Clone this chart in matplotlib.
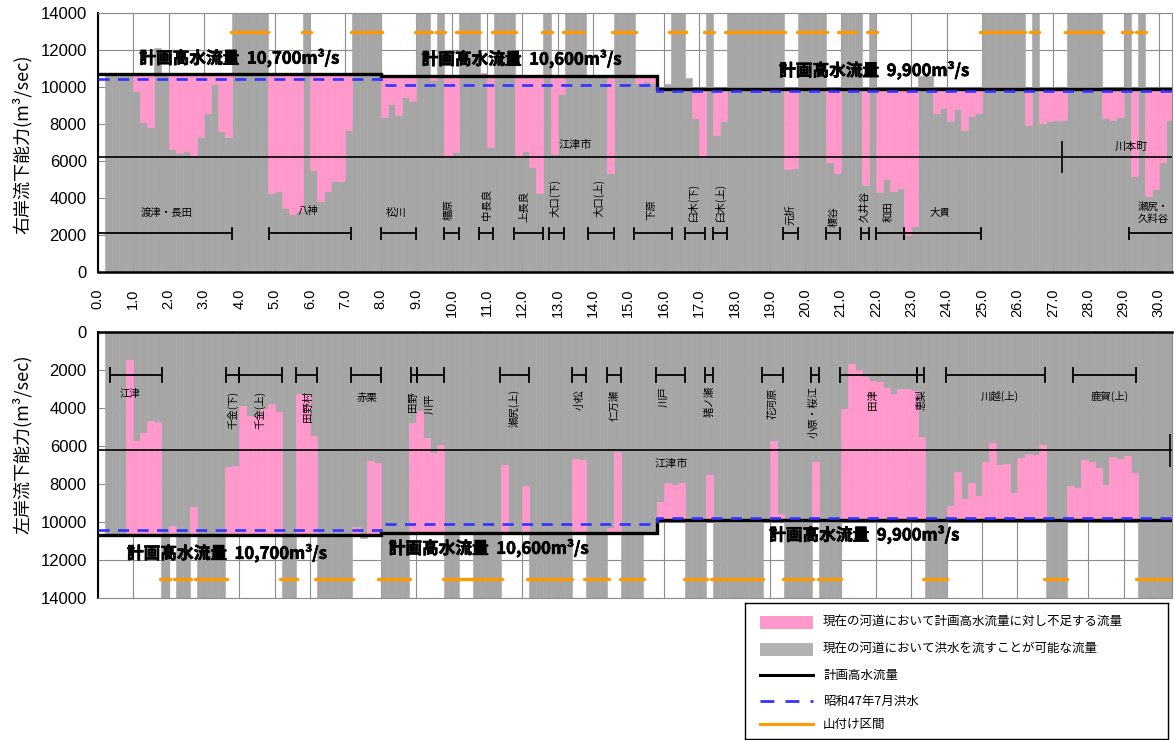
import numpy as np
import matplotlib
matplotlib.use('Agg')
import matplotlib.pyplot as plt
import matplotlib.patheffects as pe
from matplotlib.patches import Rectangle

plt.rcParams['font.family'] = ['Noto Sans CJK JP', 'DejaVu Sans']

# ---------------- data ----------------
STEP = 0.2           # km per section
YMAX = 14000         # full-height columns = mountain sections
nan = np.nan

# right bank capacity per 0.2 km section (start 0.0, 0.2, ... 30.2)
right_capacity = [
    nan, 10700, 10700, 10700, 10700,
    9800, 8100, 7850, 12100, 10700,
    6630, 6430, 6560, 6320, 7280,
    8610, 10200, 7640, 7280, 14000,
    14000, 14000, 14000, 14000, 4300,
    4360, 3440, 3130, 3280, 14000,
    5500, 3860, 4410, 4920, 4900,
    7710, 14000, 14000, 14000, 14000,
    8370, 9100, 8480, 9450, 9270,
    14000, 14000, 10390, 14000, 6280,
    6480, 14000, 14000, 14000, 10790,
    6780, 14000, 14000, 14000, 6240,
    6530, 5700, 4280, 14000, 6370,
    9630, 14000, 14000, 14000, 10600,
    10600, 10650, 5380, 14000, 14000,
    14000, 10250, 10340, 10250, 9900,
    10170, 14000, 14000, 10480, 8350,
    6240, 14000, 7410, 8190, 14000,
    14000, 14000, 14000, 14000, 14000,
    14000, 14000, 5570, 5650, 14000,
    14000, 14000, 14000, 5970, 5380,
    14000, 14000, 14000, 4730, 14000,
    4330, 5030, 4390, 4540, 2000,
    2500, 10580, 10580, 8630, 8870,
    8150, 8810, 7700, 8450, 8600,
    14000, 14000, 14000, 14000, 14000,
    14000, 7970, 14000, 8060, 8150,
    8240, 8200, 14000, 14000, 14000,
    14000, 14000, 8330, 8200, 8380,
    14000, 5170, 14000, 4090, 4500,
    5950, 8240,
]

# left bank capacity per 0.2 km section
left_capacity = [
    nan, 10700, 10700, 10700, 1460,
    5720, 5300, 4680, 4730, 14000,
    10220, 14000, 14000, 9240, 14000,
    14000, 14000, 14000, 7090, 7050,
    3870, 4400, 4400, 4060, 3780,
    4200, 14000, 14000, 3250, 3300,
    5470, 14000, 14000, 14000, 14000,
    14000, 10290, 10870, 6790, 6900,
    14000, 14000, 14000, 14000, 4770,
    4150, 5590, 6390, 5950, 14000,
    14000, 10600, 10600, 14000, 14000,
    14000, 14000, 6980, 10600, 10600,
    8110, 14000, 14000, 14000, 14000,
    14000, 14000, 6680, 6750, 14000,
    14000, 14000, 10340, 6320, 14000,
    14000, 14000, 10600, 10600, 8940,
    7950, 8070, 7950, 14000, 14000,
    14000, 7530, 14000, 14000, 14000,
    14000, 14000, 14000, 14000, 9900,
    5750, 9600, 14000, 14000, 14000,
    14000, 6860, 14000, 14000, 14000,
    4050, 1670, 1990, 2380, 2570,
    2600, 2960, 3250, 2990, 2990,
    3100, 5510, 14000, 14000, 14000,
    9160, 7370, 8800, 7930, 8640,
    6860, 5860, 7000, 6970, 8500,
    6610, 6440, 6470, 5960, 14000,
    14000, 14000, 8090, 8200, 6740,
    6860, 7140, 8060, 6600, 6700,
    6510, 7420, 14000, 14000, 14000,
    14000, 14000,
]

# planned high-water discharge (step) and 1972 flood
plan_edges = [0.0, 8.0, 15.8, 30.4]
plan_values = [10700, 10600, 9900]
plan_labels = ['計画高水流量  10,700m³/s', '計画高水流量  10,600m³/s', '計画高水流量  9,900m³/s']
flood_values = [10450, 10130, 9770]

# mountain-side sections (山付け区間)
right_mount_start = [3.77, 5.76, 7.16, 8.97, 9.55, 10.14, 11.15, 12.55, 13.15, 14.55, 16.14,
                     17.15, 17.74, 19.76, 20.94, 21.74, 24.94, 26.36, 27.35, 28.95, 29.35]
right_mount_end = [4.82, 6.03, 8.03, 9.44, 9.82, 10.81, 11.82, 12.83, 13.75, 15.22, 16.62,
                   17.43, 19.43, 20.61, 21.45, 22.02, 26.22, 26.62, 28.41, 29.23, 29.64]
left_mount_start = [1.76, 2.15, 2.75, 5.15, 6.14, 7.93, 9.75, 12.14, 13.75, 14.75, 16.56,
                    17.33, 19.36, 20.36, 23.34, 26.75, 29.35]
left_mount_end = [2.04, 2.63, 3.64, 5.62, 7.22, 8.83, 11.42, 13.42, 14.44, 15.43, 17.22,
                  18.82, 20.21, 21.01, 24.02, 27.41, 30.4]

# district ranges
right_range_start = [0.0, 4.83, 8.0, 9.8, 10.78, 11.76, 12.75, 13.87, 15.17, 16.6, 17.4,
                     19.38, 20.58, 21.58, 22.0, 22.78, 29.16]
right_range_end = [3.8, 7.16, 9.0, 10.2, 11.18, 12.6, 13.17, 14.58, 16.24, 17.17, 17.78,
                   19.8, 20.99, 21.8, 22.78, 24.97, 30.4]
left_range_start = [0.35, 3.62, 4.0, 5.6, 7.15, 8.85, 9.02, 11.37, 13.41, 14.40, 15.78,
                    17.17, 18.79, 20.16, 20.99, 23.15, 23.98, 27.58]
left_range_end = [1.82, 4.0, 5.2, 6.19, 8.0, 9.02, 9.79, 12.18, 13.80, 14.78, 16.61,
                  17.38, 19.38, 20.39, 23.15, 23.35, 26.79, 29.35]

# district names: (name, km, value, rotation)
right_names = [
    ('渡津・長田', 1.95, 3190, 0), ('八神', 5.95, 3280, 0), ('松川', 8.43, 3190, 0),
    ('櫃原', 9.91, 3400, 90), ('中長良', 11.0, 3650, 90), ('上長良', 12.03, 3550, 90),
    ('大口(下)', 12.93, 3990, 90), ('大口(上)', 14.17, 3990, 90), ('下原', 15.66, 3355, 90),
    ('臼木(下)', 16.84, 3770, 90), ('臼木(上)', 17.6, 3770, 90), ('元折', 19.57, 3080, 90),
    ('榎谷', 20.8, 3000, 90), ('久井谷', 21.69, 3535, 90), ('和田', 22.35, 3265, 90),
    ('大貫', 23.8, 3244, 0), ('瀬尻・\n久料谷', 29.85, 3200, 0),
]
left_names = [
    ('江津', 0.91, 3270, 0), ('千金(下)', 3.83, 4100, 90), ('千金(上)', 4.57, 4100, 90),
    ('田野村', 5.95, 3920, 90), ('赤栗', 7.6, 3480, 0), ('田野', 8.92, 3660, 90),
    ('川平', 9.39, 3750, 90), ('瀬尻(上)', 11.77, 4010, 90), ('小松', 13.63, 3570, 90),
    ('仁万瀬', 14.62, 3835, 90), ('川戸', 15.99, 3395, 90), ('猪ノ瀬', 17.29, 3660, 90),
    ('花河原', 19.07, 3750, 90), ('小原・桜江', 20.25, 4190, 90), ('田津', 21.93, 3560, 90),
    ('恵梨', 23.3, 3560, 90), ('川越(上)', 25.51, 3395, 0), ('鹿賀(上)', 28.62, 3395, 0),
]

# municipal boundary line
boundary_value = 6200
right_boundary_ticks = [0.0, 27.26]
left_boundary_ticks = [0.0, 30.3]
right_cities = [('江津市', 13.49, 6850), ('川本町', 29.23, 6800)]
left_cities = [('江津市', 16.2, 6950)]

right_plan_text_pos = [(4.0, 11570), (11.98, 11515), (21.95, 10900)]
left_plan_text_pos = [(3.65, 11662), (11.05, 11398), (21.67, 10695)]

# ---------------- style ----------------
PINK = '#FF99CC'
GRAY = '#A6A6A6'
ORANGE = '#FF9900'
BLUE = '#3333FF'
GRID = '#8C8C8C'
XMAX = 30.37
TICKFONT = 'Liberation Sans'
BOLD_FX = [pe.withStroke(linewidth=0.5, foreground='black')]

W, H = 1174, 740
fig = plt.figure(figsize=(W / 100, H / 100), dpi=100)
ax1 = fig.add_axes([97.8 / W, 1 - 272 / H, (1172 - 97.8) / W, (272 - 13.3) / H])
ax2 = fig.add_axes([97.8 / W, 1 - 597.7 / H, (1172 - 97.8) / W, (597.7 - 332.3) / H])


def draw_panel(ax, capacity, mount_s, mount_e, rng_s, rng_e, rng_y, cap_half, names,
               b_ticks, cities, text_pos, inverted):
    cap = np.array(capacity, dtype=float)
    x = np.arange(len(cap)) * STEP
    idx = np.searchsorted(plan_edges, x + STEP / 2, side='right') - 1
    plan_at = np.array(plan_values, dtype=float)[idx]
    valid = ~np.isnan(cap)
    gray_h = np.where(valid, np.minimum(cap, YMAX), 0)
    short = np.where(valid & (cap < plan_at), plan_at - np.nan_to_num(cap), 0)
    ax.bar(x, gray_h, width=STEP, align='edge', color=GRAY, edgecolor=GRAY, lw=0.4, zorder=2)
    ax.bar(x, short, bottom=np.nan_to_num(cap), width=STEP, align='edge', color=PINK,
           edgecolor=PINK, lw=0.4, zorder=2)

    # boundary line
    ax.hlines([boundary_value], [0], [XMAX], color='black', lw=1.2, zorder=3)
    ax.vlines(b_ticks, boundary_value - 850, boundary_value + 900, color='black', lw=1.2, zorder=3)

    # district ranges
    rs = np.asarray(rng_s, dtype=float)
    re_ = np.asarray(rng_e, dtype=float)
    ax.hlines(np.full(len(rs), rng_y), rs, re_, color='black', lw=1.3, zorder=3)
    ax.vlines(np.concatenate([rs, re_]), rng_y - cap_half, rng_y + cap_half,
              color='black', lw=1.3, zorder=3)

    # mountain sections
    ms = np.asarray(mount_s, dtype=float)
    me = np.asarray(mount_e, dtype=float)
    ax.hlines(np.full(len(ms), 13000.0), ms, me, color=ORANGE, lw=2.4, zorder=4,
              capstyle='round')

    # plan and flood lines
    ax.stairs(plan_values, plan_edges, baseline=None, color='black', lw=2.4, zorder=5)
    ax.stairs(flood_values, plan_edges, baseline=None, color=BLUE, lw=1.9,
              linestyle=(0, (4.2, 3.2)), zorder=6)

    for name, xx, yy, rot in names:
        ax.text(xx, yy, name, rotation=rot, ha='center', va='center', fontsize=7.5,
                zorder=7, linespacing=1.3)
    for name, xx, yy in cities:
        ax.text(xx, yy, name, ha='center', va='center', fontsize=8, zorder=7)
    for (xx, yy), lab in zip(text_pos, plan_labels):
        ax.text(xx, yy, lab, ha='center', va='center', fontsize=12, fontweight='bold',
                zorder=7, path_effects=BOLD_FX)

    ax.set_xlim(0, XMAX)
    if inverted:
        ax.set_ylim(YMAX, 0)
    else:
        ax.set_ylim(0, YMAX)
    ax.set_xticks(np.arange(0, 31, 1))
    ax.set_xticks(np.arange(0, 30.5, 0.5), minor=True)
    ax.set_yticks(np.arange(0, 14001, 2000))
    ax.grid(True, which='major', color=GRID, lw=0.8)
    ax.set_axisbelow(True)
    ax.tick_params(axis='y', length=0, pad=8, labelsize=12)
    for lab in ax.get_yticklabels():
        lab.set_fontfamily(TICKFONT)
    for s in ax.spines.values():
        s.set_color(GRID)
        s.set_linewidth(0.8)
    ax.spines['left'].set_color('black')
    ax.spines['left'].set_linewidth(1.5)


draw_panel(ax1, right_capacity, right_mount_start, right_mount_end, right_range_start,
           right_range_end, 2100, 360, right_names, right_boundary_ticks, right_cities,
           right_plan_text_pos, False)
draw_panel(ax2, left_capacity, left_mount_start, left_mount_end, left_range_start,
           left_range_end, 2250, 400, left_names, left_boundary_ticks, left_cities,
           left_plan_text_pos, True)

ax1.spines['bottom'].set_color('black')
ax1.spines['bottom'].set_linewidth(1.8)
ax1.tick_params(axis='x', which='both', direction='in', length=3, color='black', width=0.8)
ax1.set_xticklabels([f'{v:.1f}' for v in range(31)], rotation=90, fontsize=10.5,
                    fontfamily=TICKFONT)
ax1.tick_params(axis='x', which='major', pad=12)

ax2.spines['top'].set_color('black')
ax2.spines['top'].set_linewidth(1.8)
ax2.xaxis.set_ticks_position('top')
ax2.tick_params(axis='x', which='both', direction='in', length=3, color='black', width=0.8,
                labeltop=False, labelbottom=False)

fig.text(22 / W, 1 - 144 / H, '右岸流下能力(m³/sec)', rotation=90, ha='center', va='center',
         fontsize=13)
fig.text(22 / W, 1 - 444 / H, '左岸流下能力(m³/sec)', rotation=90, ha='center', va='center',
         fontsize=13)

# ---------------- legend ----------------
lax = fig.add_axes([745 / W, 1 - 739 / H, 423 / W, 136 / H])
lax.set_xlim(0, 423)
lax.set_ylim(136, 0)
lax.set_xticks([])
lax.set_yticks([])
for s in lax.spines.values():
    s.set_color('black')
    s.set_linewidth(1.0)
legend_labels = ['現在の河道において計画高水流量に対し不足する流量',
                 '現在の河道において洪水を流すことが可能な流量',
                 '計画高水流量', '昭和47年7月洪水', '山付け区間']
rows = [19, 46, 72, 98, 121]
lax.add_patch(Rectangle((15, rows[0] - 6.5), 53, 13, color=PINK, lw=0))
lax.add_patch(Rectangle((15, rows[1] - 6.5), 53, 13, color='#B2B2B2', lw=0))
lax.plot([15, 68], [rows[2], rows[2]], color='black', lw=2.2)
lax.plot([15, 68], [rows[3], rows[3]], color=BLUE, lw=2.0, linestyle=(0, (5, 4)))
lax.plot([15, 68], [rows[4], rows[4]], color=ORANGE, lw=2.2)
for r, lab in zip(rows, legend_labels):
    lax.text(78, r, lab, ha='left', va='center', fontsize=9)

fig.savefig('out.png', dpi=100)
